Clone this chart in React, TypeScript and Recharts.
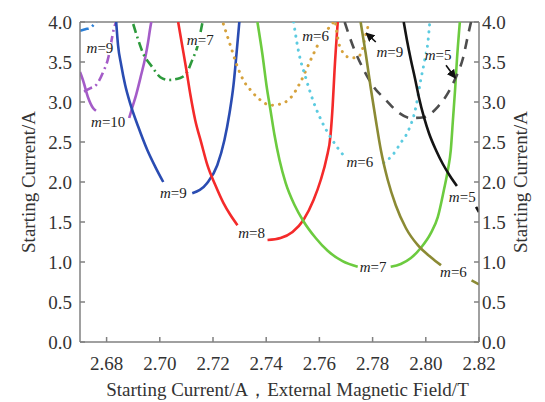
import { ComposedChart, Label, Line, ReferenceLine, Scatter, XAxis, YAxis } from 'recharts'

type Pt = { x: number; y: number }

const xTicks = [2.68, 2.7, 2.72, 2.74, 2.76, 2.78, 2.8, 2.82]
const yTicks = [0, 0.5, 1, 1.5, 2, 2.5, 3, 3.5, 4]

// curve pieces
const blueDashDot: Pt[] = [
  { x: 2.67, y: 3.89 }, { x: 2.672, y: 3.91 }, { x: 2.674, y: 3.93 }, { x: 2.6755, y: 3.98 }, { x: 2.6762, y: 4.0 },
]
const purpleLeft: Pt[] = [
  { x: 2.67, y: 3.375 }, { x: 2.6711, y: 3.275 }, { x: 2.673, y: 3.06 }, { x: 2.6749, y: 2.925 }, { x: 2.676, y: 2.89 },
]
const purpleDashDot: Pt[] = [
  { x: 2.6715, y: 3.13 }, { x: 2.6738, y: 3.17 }, { x: 2.676, y: 3.21 }, { x: 2.6787, y: 3.375 },
  { x: 2.6806, y: 3.55 }, { x: 2.6817, y: 3.74 }, { x: 2.6828, y: 3.925 }, { x: 2.6836, y: 4.0 },
]
const purpleRight: Pt[] = [
  { x: 2.6885, y: 2.8 }, { x: 2.6896, y: 2.925 }, { x: 2.6911, y: 3.09 }, { x: 2.693, y: 3.34 },
  { x: 2.6945, y: 3.55 }, { x: 2.6956, y: 3.75 }, { x: 2.6964, y: 3.925 }, { x: 2.6968, y: 4.0 },
]
const blueLeft: Pt[] = [
  { x: 2.6836, y: 4.0 }, { x: 2.6843, y: 3.71 }, { x: 2.6855, y: 3.46 }, { x: 2.687, y: 3.21 }, { x: 2.6888, y: 2.99 },
  { x: 2.6919, y: 2.69 }, { x: 2.6953, y: 2.4 }, { x: 2.6983, y: 2.19 }, { x: 2.7013, y: 2.0 },
]
const blueRight: Pt[] = [
  { x: 2.7122, y: 1.86 }, { x: 2.7179, y: 1.99 }, { x: 2.7216, y: 2.21 }, { x: 2.7243, y: 2.525 },
  { x: 2.7262, y: 2.86 }, { x: 2.7277, y: 3.21 }, { x: 2.7288, y: 3.59 }, { x: 2.7299, y: 4.0 },
]
const greenDashDot: Pt[] = [
  { x: 2.69, y: 3.975 }, { x: 2.6919, y: 3.775 }, { x: 2.6937, y: 3.61 }, { x: 2.6971, y: 3.44 },
  { x: 2.7002, y: 3.31 }, { x: 2.7032, y: 3.275 }, { x: 2.7077, y: 3.3 }, { x: 2.7103, y: 3.375 },
  { x: 2.7122, y: 3.525 }, { x: 2.7141, y: 3.69 }, { x: 2.716, y: 3.99 },
]
const redLeft: Pt[] = [
  { x: 2.7069, y: 4.0 }, { x: 2.7084, y: 3.71 }, { x: 2.71, y: 3.4 }, { x: 2.7115, y: 3.09 }, { x: 2.7133, y: 2.775 },
  { x: 2.7156, y: 2.49 }, { x: 2.7179, y: 2.21 }, { x: 2.7209, y: 1.96 }, { x: 2.7239, y: 1.74 },
  { x: 2.7265, y: 1.59 }, { x: 2.7292, y: 1.46 },
]
const redRight: Pt[] = [
  { x: 2.7405, y: 1.275 }, { x: 2.7454, y: 1.3 }, { x: 2.7499, y: 1.375 }, { x: 2.754, y: 1.525 },
  { x: 2.7578, y: 1.775 }, { x: 2.7605, y: 2.025 }, { x: 2.7627, y: 2.3 }, { x: 2.7642, y: 2.59 },
  { x: 2.765, y: 2.96 }, { x: 2.7657, y: 3.4 }, { x: 2.7669, y: 4.0 },
]
const greenLeft: Pt[] = [
  { x: 2.7367, y: 4.0 }, { x: 2.7386, y: 3.59 }, { x: 2.7401, y: 3.21 }, { x: 2.7416, y: 2.9 }, { x: 2.7431, y: 2.59 },
  { x: 2.745, y: 2.275 }, { x: 2.7473, y: 1.99 }, { x: 2.7507, y: 1.71 }, { x: 2.754, y: 1.51 },
  { x: 2.7586, y: 1.3 }, { x: 2.7631, y: 1.14 }, { x: 2.7687, y: 1.01 }, { x: 2.7744, y: 0.94 },
]
const greenRight: Pt[] = [
  { x: 2.7868, y: 0.94 }, { x: 2.7906, y: 0.975 }, { x: 2.7944, y: 1.05 }, { x: 2.7981, y: 1.175 },
  { x: 2.8019, y: 1.36 }, { x: 2.8045, y: 1.56 }, { x: 2.8068, y: 1.9 }, { x: 2.8083, y: 2.15 },
  { x: 2.8094, y: 2.4 }, { x: 2.8102, y: 2.775 }, { x: 2.811, y: 3.15 }, { x: 2.8117, y: 3.525 }, { x: 2.8128, y: 4.0 },
]
const orangeWide: Pt[] = [
  { x: 2.7239, y: 3.975 }, { x: 2.7265, y: 3.71 }, { x: 2.7292, y: 3.44 }, { x: 2.7318, y: 3.25 },
  { x: 2.7341, y: 3.15 }, { x: 2.7378, y: 3.025 }, { x: 2.7416, y: 2.96 }, { x: 2.7454, y: 2.975 },
  { x: 2.7491, y: 3.05 }, { x: 2.7529, y: 3.25 }, { x: 2.7567, y: 3.525 }, { x: 2.7604, y: 3.775 }, { x: 2.7654, y: 4.0 },
]
const orangeNarrow: Pt[] = [
  { x: 2.7661, y: 3.975 }, { x: 2.7672, y: 3.75 }, { x: 2.7691, y: 3.61 }, { x: 2.7718, y: 3.55 },
  { x: 2.7744, y: 3.56 }, { x: 2.7763, y: 3.675 }, { x: 2.7774, y: 3.84 }, { x: 2.7785, y: 3.96 }, { x: 2.7793, y: 4.0 },
]
const cyanLeft: Pt[] = [
  { x: 2.7503, y: 4.0 }, { x: 2.7522, y: 3.625 }, { x: 2.7548, y: 3.31 }, { x: 2.7578, y: 3.0 },
  { x: 2.7616, y: 2.71 }, { x: 2.7642, y: 2.56 }, { x: 2.7669, y: 2.425 }, { x: 2.7699, y: 2.3 },
]
const cyanRight: Pt[] = [
  { x: 2.7842, y: 2.24 }, { x: 2.7876, y: 2.34 }, { x: 2.7906, y: 2.49 }, { x: 2.7932, y: 2.625 },
  { x: 2.7963, y: 2.94 }, { x: 2.7981, y: 3.275 }, { x: 2.7996, y: 3.525 }, { x: 2.8008, y: 3.75 }, { x: 2.8015, y: 4.0 },
]
const grayDashed: Pt[] = [
  { x: 2.7695, y: 4.0 }, { x: 2.7729, y: 3.675 }, { x: 2.7767, y: 3.4 }, { x: 2.7804, y: 3.19 },
  { x: 2.785, y: 3.025 }, { x: 2.7895, y: 2.875 }, { x: 2.7944, y: 2.8 }, { x: 2.7993, y: 2.81 },
  { x: 2.8045, y: 2.94 }, { x: 2.8083, y: 3.11 }, { x: 2.8113, y: 3.31 }, { x: 2.814, y: 3.55 },
  { x: 2.8159, y: 3.84 }, { x: 2.817, y: 4.0 },
]
const oliveMain: Pt[] = [
  { x: 2.7755, y: 4.0 }, { x: 2.7774, y: 3.61 }, { x: 2.7793, y: 3.175 }, { x: 2.7812, y: 2.775 },
  { x: 2.7831, y: 2.4 }, { x: 2.7857, y: 2.025 }, { x: 2.7887, y: 1.71 }, { x: 2.7925, y: 1.425 },
  { x: 2.797, y: 1.21 }, { x: 2.8019, y: 1.06 }, { x: 2.8057, y: 0.96 },
]
const oliveTail: Pt[] = [{ x: 2.8172, y: 0.77 }, { x: 2.82, y: 0.72 }]
const blackMain: Pt[] = [
  { x: 2.7917, y: 4.0 }, { x: 2.7929, y: 3.775 }, { x: 2.7944, y: 3.525 }, { x: 2.7959, y: 3.3 },
  { x: 2.7974, y: 3.06 }, { x: 2.7993, y: 2.81 }, { x: 2.8012, y: 2.61 }, { x: 2.8038, y: 2.4 },
  { x: 2.8064, y: 2.225 }, { x: 2.8091, y: 2.075 }, { x: 2.8117, y: 1.95 },
]
const blackTail: Pt[] = [{ x: 2.8189, y: 1.69 }, { x: 2.82, y: 1.625 }]

const arrowA: Pt[] = [{ x: 2.7812, y: 3.75 }, { x: 2.7776, y: 3.86 }]
const arrowB: Pt[] = [{ x: 2.8076, y: 3.46 }, { x: 2.8111, y: 3.3 }]

const modeLabels = [
  { x: 2.6775, y: 3.675, n: '9' },
  { x: 2.6806, y: 2.75, n: '10' },
  { x: 2.7152, y: 3.775, n: '7' },
  { x: 2.7051, y: 1.86, n: '9' },
  { x: 2.7345, y: 1.36, n: '8' },
  { x: 2.7586, y: 3.825, n: '6' },
  { x: 2.7865, y: 3.625, n: '9' },
  { x: 2.8046, y: 3.59, n: '5' },
  { x: 2.7752, y: 2.25, n: '6' },
  { x: 2.7802, y: 0.94, n: '7' },
  { x: 2.8137, y: 1.81, n: '5' },
  { x: 2.8104, y: 0.875, n: '6' },
]

const DASH_DOT = '9 4 2 4'
const DOTTED = '0.1 7'
const DASHED = '10 8'

const series = [
  { id: 'blueDashDot', data: blueDashDot, color: '#2b7fd6', dash: DASH_DOT },
  { id: 'purpleLeft', data: purpleLeft, color: '#a45cc8' },
  { id: 'purpleDashDot', data: purpleDashDot, color: '#a45cc8', dash: DASH_DOT },
  { id: 'purpleRight', data: purpleRight, color: '#a45cc8' },
  { id: 'blueLeft', data: blueLeft, color: '#2a4cb2' },
  { id: 'blueRight', data: blueRight, color: '#2a4cb2' },
  { id: 'greenDashDot', data: greenDashDot, color: '#2d9a3c', dash: DASH_DOT },
  { id: 'redLeft', data: redLeft, color: '#f42a2a' },
  { id: 'redRight', data: redRight, color: '#f42a2a' },
  { id: 'orangeWide', data: orangeWide, color: '#d6a23c', dash: DOTTED },
  { id: 'orangeNarrow', data: orangeNarrow, color: '#d6a23c', dash: DOTTED },
  { id: 'cyanLeft', data: cyanLeft, color: '#5ccbe0', dash: DOTTED },
  { id: 'cyanRight', data: cyanRight, color: '#5ccbe0', dash: DOTTED },
  { id: 'greenLeft', data: greenLeft, color: '#6ccb3f' },
  { id: 'greenRight', data: greenRight, color: '#6ccb3f' },
  { id: 'grayDashed', data: grayDashed, color: '#4d4d4d', dash: DASHED },
  { id: 'oliveMain', data: oliveMain, color: '#8b8a34' },
  { id: 'oliveTail', data: oliveTail, color: '#8b8a34' },
  { id: 'blackMain', data: blackMain, color: '#141414' },
  { id: 'blackTail', data: blackTail, color: '#141414' },
]

const FONT = '"Liberation Serif", "Times New Roman", serif'
const AXIS = '#808080'

function ModeLabel(props: any) {
  const { cx, cy, payload } = props
  if (cx == null || cy == null) return null
  const w = 16 + payload.n.length * 7.5
  return (
    <g>
      <rect x={cx - w / 2} y={cy - 6} width={w} height={12} fill="#fff" />
      <text x={cx} y={cy} textAnchor="middle" dominantBaseline="central" fontFamily={FONT} fontSize={15} fill="#222">
        <tspan fontStyle="italic">m</tspan>={payload.n}
      </text>
    </g>
  )
}

export default function App() {
  return (
    <div style={{ position: 'absolute', left: 0, top: 0, background: '#fff' }}>
      <ComposedChart width={545} height={402} margin={{ top: 22, right: 0, bottom: 0, left: 0 }} style={{ fontFamily: FONT }}>
        <defs>
          <marker id="arrowHead" viewBox="0 0 10 10" refX="9" refY="5" markerWidth="9" markerHeight="9" markerUnits="userSpaceOnUse" orient="auto">
            <path d="M0,0 L10,5 L0,10 z" fill="#111" />
          </marker>
        </defs>
        <XAxis
          type="number"
          dataKey="x"
          domain={[2.67, 2.82]}
          ticks={xTicks}
          allowDataOverflow
          height={60}
          tickFormatter={(v: number) => v.toFixed(2)}
          tick={{ fill: '#333', fontSize: 19, fontFamily: FONT }}
          tickSize={-5}
          tickMargin={20}
          stroke={AXIS}
          strokeWidth={1.5}
        >
          <Label value="Starting Current/A，External Magnetic Field/T" position="insideBottom" offset={6} dx={8} fill="#333" fontSize={19} fontFamily={FONT} />
        </XAxis>
        <YAxis
          yAxisId="left"
          type="number"
          dataKey="y"
          domain={[0, 4]}
          ticks={yTicks}
          allowDataOverflow
          width={80}
          tickFormatter={(v: number) => v.toFixed(1)}
          tick={{ fill: '#333', fontSize: 19, fontFamily: FONT }}
          tickSize={-5}
          tickMargin={13}
          stroke={AXIS}
          strokeWidth={1.5}
        >
          <Label value="Starting Current/A" angle={-90} position="insideLeft" offset={28} style={{ textAnchor: 'middle' }} fill="#333" fontSize={19} fontFamily={FONT} />
        </YAxis>
        <YAxis
          yAxisId="right"
          orientation="right"
          type="number"
          dataKey="y"
          domain={[0, 4]}
          ticks={yTicks}
          allowDataOverflow
          width={66}
          tickFormatter={(v: number) => v.toFixed(1)}
          tick={{ fill: '#333', fontSize: 19, fontFamily: FONT, textAnchor: 'start' }}
          tickSize={-5}
          tickMargin={8}
          stroke={AXIS}
          strokeWidth={1.5}
        >
          <Label value="Starting Current/A" angle={-90} position="insideRight" offset={25} style={{ textAnchor: 'middle' }} fill="#333" fontSize={19} fontFamily={FONT} />
        </YAxis>
        <ReferenceLine yAxisId="left" y={4} stroke={AXIS} strokeWidth={1.5} />
        {series.map((s) => (
          <Line
            key={s.id}
            yAxisId="left"
            data={s.data}
            dataKey="y"
            type="monotone"
            stroke={s.color}
            strokeWidth={s.dash === DOTTED ? 3 : 2.6}
            strokeDasharray={s.dash}
            strokeLinecap={s.dash === DOTTED ? 'round' : 'butt'}
            dot={false}
            activeDot={false}
            isAnimationActive={false}
          />
        ))}
        {[arrowA, arrowB].map((a, i) => (
          <Line
            key={'arrow' + i}
            yAxisId="left"
            data={a}
            dataKey="y"
            type="linear"
            stroke="#111"
            strokeWidth={1.6}
            markerEnd="url(#arrowHead)"
            dot={false}
            activeDot={false}
            isAnimationActive={false}
          />
        ))}
        <Scatter yAxisId="right" data={modeLabels} dataKey="y" shape={ModeLabel} isAnimationActive={false} />
      </ComposedChart>
    </div>
  )
}
